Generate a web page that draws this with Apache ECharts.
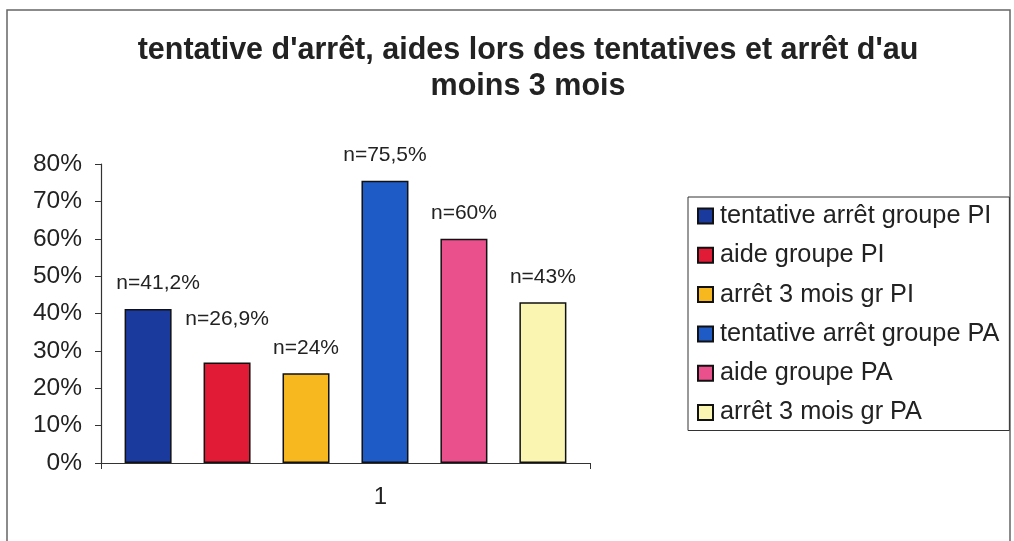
<!DOCTYPE html>
<html>
<head>
<meta charset="utf-8">
<script src="https://cdn.jsdelivr.net/npm/echarts@6/dist/echarts.min.js"></script>
<style>
  html, body { margin: 0; padding: 0; background: #fff; }
  #chart { width: 1014px; height: 541px; }
</style>
</head>
<body>
<div id="chart"></div>
<script>
var categories = ['1'];
var seriesNames = ['tentative arrêt groupe PI', 'aide groupe PI', 'arrêt 3 mois gr PI',
	'tentative arrêt groupe PA', 'aide groupe PA', 'arrêt 3 mois gr PA'];
var seriesValues = [41.2, 26.9, 24, 75.5, 60, 43];
var barLabels = ['n=41,2%', 'n=26,9%', 'n=24%', 'n=75,5%', 'n=60%', 'n=43%'];
var barColors = ['#1b3a9e', '#e11b35', '#f6b71f', '#1f5bc6', '#e9508c', '#fbf5b2'];
// labels moved by hand in the original
var labelOffsets = [[10, 0], [0, -18], [0, 0], [0, 0], [0, 0], [0, 0]];

var font = '"Liberation Sans", Arial, sans-serif';

var series = [];
for (var i = 0; i < seriesNames.length; i++) {
	series.push({
		name: seriesNames[i],
		type: 'bar',
		barWidth: 47,
		barGap: '68%',
		itemStyle: {
			color: barColors[i],
			borderColor: '#111',
			borderWidth: 1.5
		},
		label: {
			show: true,
			position: 'top',
			distance: 15,
			offset: labelOffsets[i],
			color: '#222',
			fontSize: 21,
			fontFamily: font,
			formatter: barLabels[i]
		},
		data: [seriesValues[i]]
	});
}

var myChart = echarts.init(document.getElementById('chart'));
var option = {
	backgroundColor: '#fff',
	animation: false,
	title: {
		text: "tentative d'arrêt, aides lors des tentatives et arrêt d'au\nmoins 3 mois",
		left: 523,
		top: 28,
		textAlign: 'center',
		textStyle: {
			color: '#222',
			fontSize: 30.5,
			fontWeight: 'bold',
			fontFamily: font,
			lineHeight: 36
		}
	},
	graphic: [{
		type: 'rect',
		shape: { x: 7, y: 10, width: 1003, height: 560 },
		style: { fill: 'none', stroke: '#666', lineWidth: 1.5 },
		silent: true
	}],
	legend: {
		data: seriesNames,
		orient: 'vertical',
		left: 688,
		top: 197,
		icon: 'rect',
		itemWidth: 15,
		itemHeight: 15,
		itemGap: 13.3,
		padding: [6, 10, 5, 9],
		borderColor: '#333',
		borderWidth: 1,
		textStyle: {
			color: '#222',
			fontSize: 25.3,
			lineHeight: 26,
			fontFamily: font,
			padding: [0, 0, 0, 2]
		}
	},
	grid: {
		left: 101,
		right: 424,
		top: 164,
		bottom: 78
	},
	xAxis: {
		type: 'category',
		data: categories,
		axisLine: { lineStyle: { color: '#333', width: 1.2 } },
		axisTick: { show: true, length: 6, lineStyle: { color: '#333' } },
		axisLabel: {
			color: '#222',
			fontSize: 24,
			fontFamily: font,
			margin: 22,
			padding: [0, 0, 0, 70]
		}
	},
	yAxis: {
		type: 'value',
		min: 0,
		max: 80,
		interval: 10,
		splitLine: { show: false },
		axisLine: { show: true, lineStyle: { color: '#333', width: 1.2 } },
		axisTick: { show: true, length: 6, lineStyle: { color: '#333' } },
		axisLabel: {
			color: '#222',
			fontSize: 24.5,
			fontFamily: font,
			margin: 19,
			formatter: '{value}%'
		}
	},
	series: series
};
myChart.setOption(option);
</script>
</body>
</html>
